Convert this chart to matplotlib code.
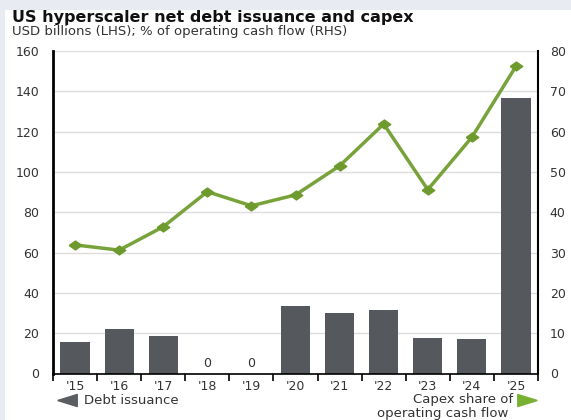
import matplotlib.pyplot as plt
import numpy as np
from matplotlib.patches import Rectangle

plt.rcParams['font.family'] = ['DejaVu Sans']

# данные
years = ["'15", "'16", "'17", "'18", "'19", "'20", "'21", "'22", "'23", "'24", "'25"]
debt_issuance = [15.7, 22.3, 18.5, 0, 0, 33.3, 30.0, 31.7, 17.4, 16.9, 136.6]  # USD bn, LHS
capex_share = [31.9, 30.6, 36.4, 45.1, 41.6, 44.3, 51.5, 61.9, 45.6, 58.6, 76.2]  # % of OCF, RHS

bar_color = '#55585c'
line_color = '#78a23a'
text_color = '#333333'

W, H = 571, 420


def fx(px):
    return px / W


def fy(py):
    return 1 - py / H


fig = plt.figure(figsize=(W / 100, H / 100), dpi=100, facecolor='#e8ebf2')
fig.patches.append(Rectangle((fx(5), 0), 1, fy(10), transform=fig.transFigure,
                             facecolor='white', edgecolor='none', zorder=-10))

ax = fig.add_axes([fx(53), fy(373.5), fx(538) - fx(53), fy(51) - fy(373.5)])
ax.set_facecolor('none')
x = np.arange(len(years))

ax.bar(x, debt_issuance, width=0.66, color=bar_color, zorder=2)
for xi, v in zip(x, debt_issuance):
    if v == 0:
        ax.text(xi, 1.5, '0', ha='center', va='bottom', fontsize=9, color=text_color)

ax.set_xlim(-0.5, len(years) - 0.5)
ax.set_ylim(0, 160)
ax.set_yticks(range(0, 161, 20))
ax.grid(axis='y', color='#dddddd', linewidth=1, zorder=0)
ax.set_axisbelow(True)

ax.set_xticks(x)
ax.set_xticklabels(years)
ax.set_xticks(np.arange(-0.5, len(years)), minor=True)
ax.tick_params(axis='x', which='major', length=0, pad=5, labelsize=9, labelcolor=text_color)
ax.tick_params(axis='x', which='minor', length=5, width=1.2, direction='out', color='black')
ax.tick_params(axis='y', length=0, pad=10, labelsize=9, labelcolor=text_color)

for side in ['top', 'right']:
    ax.spines[side].set_visible(False)
ax.spines['left'].set_linewidth(2)
ax.spines['bottom'].set_linewidth(1.2)

# правая ось — доля capex, маркер-ромб чуть шире высоты
diamond = [(-1.4, 0), (0, 1), (1.4, 0), (0, -1), (-1.4, 0)]
ax2 = ax.twinx()
ax2.plot(x, capex_share, color=line_color, linewidth=2.5, marker=diamond, markersize=9,
         markerfacecolor='#6e9a2d', markeredgecolor='#6e9a2d', zorder=3)
ax2.set_ylim(0, 80)
ax2.set_yticks(range(0, 81, 10))
ax2.tick_params(axis='y', length=0, pad=8.5, labelsize=9, labelcolor=text_color)
for side in ['top', 'left', 'bottom']:
    ax2.spines[side].set_visible(False)
ax2.spines['right'].set_linewidth(1.5)

# заголовки
fig.text(fx(12), fy(17.5), 'US hyperscaler net debt issuance and capex',
         fontsize=11.5, fontweight='bold', color='#111111', va='center', ha='left')
fig.text(fx(12), fy(32), 'USD billions (LHS); % of operating cash flow (RHS)',
         fontsize=9.5, color=text_color, va='center', ha='left')

# подписи осей снизу со стрелками-треугольниками
tri_left = [(-1, 0), (1, 0.62), (1, -0.62), (-1, 0)]
tri_right = [(1, 0), (-1, 0.62), (-1, -0.62), (1, 0)]
ax.plot([fx(67)], [fy(400)], marker=tri_left, markersize=14, color='#5a5d61',
        transform=fig.transFigure, clip_on=False)
ax.plot([fx(527)], [fy(400)], marker=tri_right, markersize=14, color='#78b032',
        transform=fig.transFigure, clip_on=False)
fig.text(fx(84), fy(400), 'Debt issuance', fontsize=9.5, color=text_color,
         va='center', ha='left')
fig.text(fx(513), fy(400), 'Capex share of', fontsize=9.5, color=text_color,
         va='center', ha='right')
fig.text(fx(508), fy(413), 'operating cash flow', fontsize=9.5, color=text_color,
         va='center', ha='right')

fig.savefig('out.png', dpi=100, facecolor=fig.get_facecolor())
